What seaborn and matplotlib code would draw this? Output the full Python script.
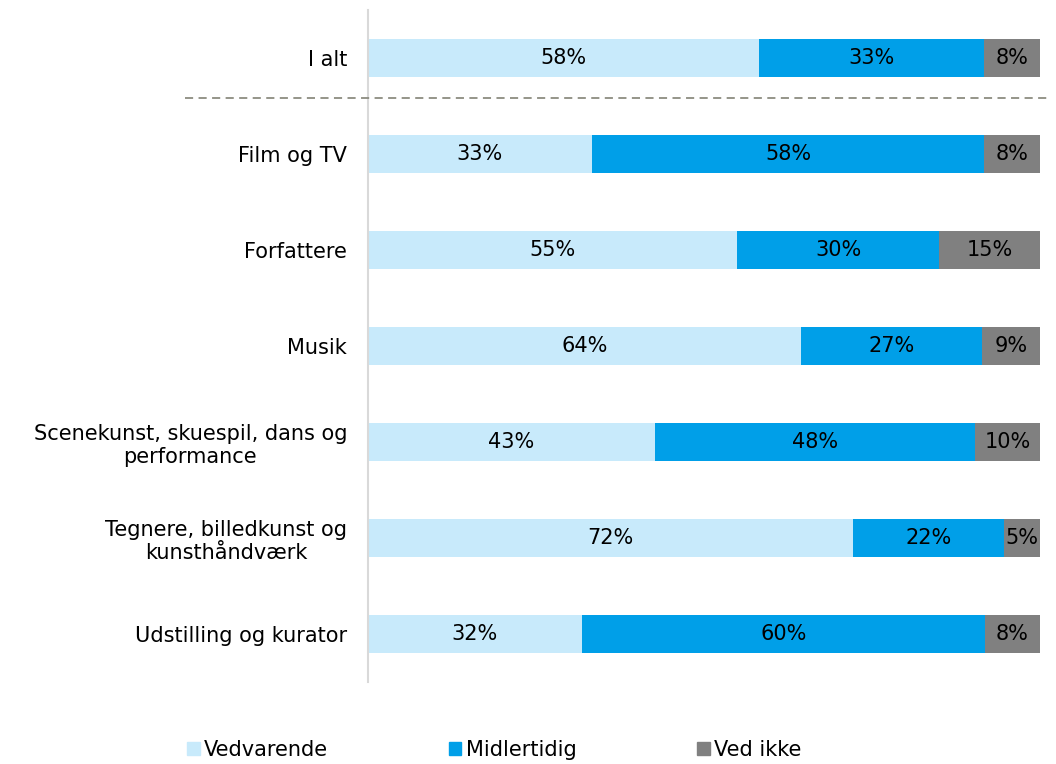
import matplotlib
matplotlib.use("Agg")
import matplotlib.pyplot as plt
import matplotlib.patches as mpatches
import matplotlib.lines as mlines
import seaborn as sns
import pandas as pd
import numpy as np

categories = ["I alt", "Film og TV", "Forfattere", "Musik",
              "Scenekunst, skuespil, dans og\nperformance",
              "Tegnere, billedkunst og\nkunsthåndværk",
              "Udstilling og kurator"]
vedvarende = [58.2, 33.3, 54.9, 64.4, 42.7, 72.2, 31.8]
midlertidig = [33.4, 58.4, 30.1, 27.0, 47.6, 22.4, 60.0]
ved_ikke = [8.4, 8.3, 15.0, 8.6, 9.7, 5.4, 8.2]
series_names = ["Vedvarende", "Midlertidig", "Ved ikke"]
colors = ["#C8EAFB", "#009FE8", "#808080"]

sns.set_theme(style="white")
plt.rcParams['font.family'] = ['DejaVu Sans']

FS = 15

df = pd.DataFrame({"cat": categories, "v": vedvarende, "m": midlertidig, "i": ved_ikke})
df["c1"] = df["v"]
df["c2"] = df["v"] + df["m"]
df["c3"] = df["v"] + df["m"] + df["i"]

fig = plt.figure(figsize=(10.56, 7.64), dpi=100)
ax = fig.add_axes([368/1056, 1-682/764, (1040-368)/1056, (682-10)/764])

for col, color in zip(["c3", "c2", "c1"], colors[::-1]):
    sns.barplot(data=df, y="cat", x=col, orient="h", color=color, width=0.4,
                ax=ax, saturation=1, linewidth=0, order=categories)

ax.set_xlim(0, 100)
ax.set_ylim(6.5, -0.5)
ax.set_xlabel("")
ax.set_ylabel("")
ax.set_xticks([])
ax.tick_params(axis="y", length=0, pad=15, labelsize=FS, labelcolor="#000000")
for lab in ax.get_yticklabels():
    lab.set_multialignment("center")
for s in ["top", "right", "bottom"]:
    ax.spines[s].set_visible(False)
ax.spines["left"].set_color("#D9D9D9")
ax.spines["left"].set_linewidth(1.5)

for i in range(len(categories)):
    vals = [vedvarende[i], midlertidig[i], ved_ikke[i]]
    start = 0
    for v in vals:
        ax.text(start + v/2, i, f"{round(v)}%", ha="center", va="center",
                fontsize=FS, color="#000000")
        start += v

# dashed separator
line = mlines.Line2D([185/1056, 1048/1056], [1-98/764, 1-98/764], transform=fig.transFigure,
                     color="#8C8C80", linestyle=(0, (4.5, 3)), linewidth=1.3)
fig.add_artist(line)

handles = [mpatches.Patch(color=c, label=n) for c, n in zip(colors, series_names)]
leg = fig.legend(handles=handles, loc="center", bbox_to_anchor=(0.468, 1-750/764), ncol=3,
                 frameon=False, fontsize=FS, handlelength=0.6, handleheight=0.6,
                 handletextpad=0.2, columnspacing=5.8)
for t in leg.get_texts():
    t.set_color("#000000")

fig.savefig("out.png", dpi=100)
